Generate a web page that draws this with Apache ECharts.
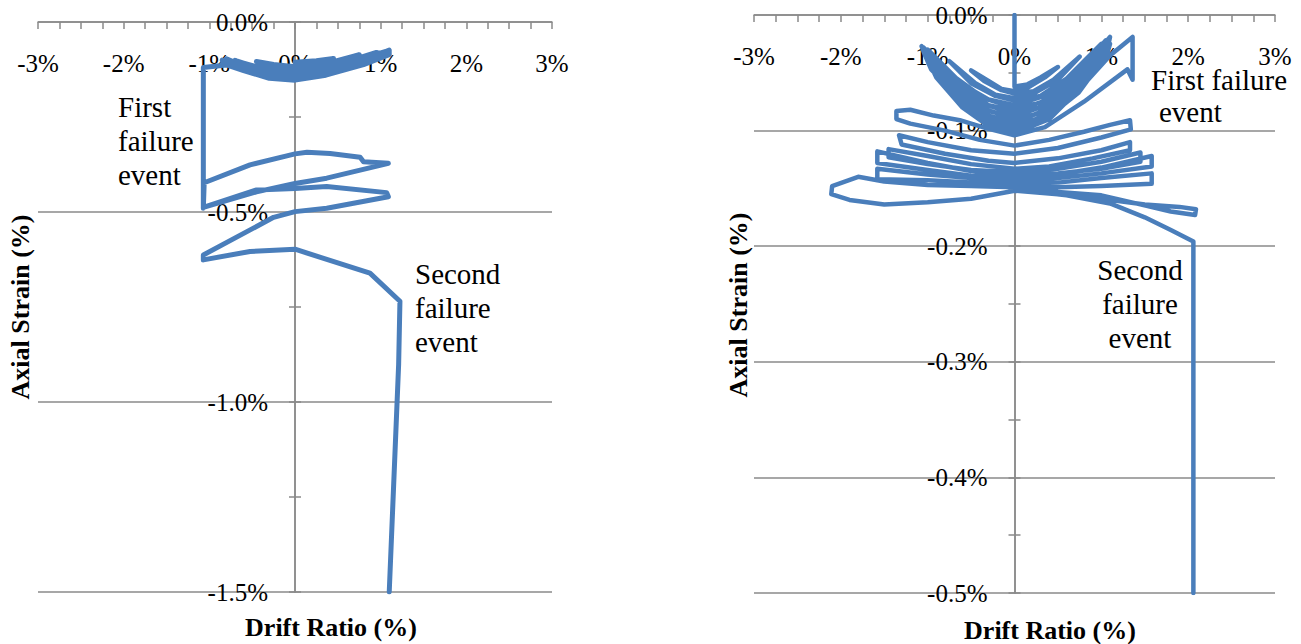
<!DOCTYPE html>
<html>
<head>
<meta charset="utf-8">
<script src="https://cdn.jsdelivr.net/npm/echarts@6/dist/echarts.min.js"></script>
<style>
  html, body { margin: 0; padding: 0; background: #ffffff; }
  #chart { width: 1301px; height: 644px; }
</style>
</head>
<body>
<div id="chart"></div>
<script>
// Axis ticks (percent)
const driftTicks = [-3, -2, -1, 0, 1, 2, 3];
const leftStrainTicks = [0, -0.5, -1.0, -1.5];
const rightStrainTicks = [0, -0.1, -0.2, -0.3, -0.4, -0.5];

// Specimen A: [drift ratio %, axial strain %] in loading order
const leftPath = [
  [0, -0.106], [0.25, -0.102], [0.45, -0.096], [0.25, -0.11], [0, -0.118], [-0.25, -0.112], [-0.45, -0.104], [-0.25, -0.12], [0, -0.126],
  [0.35, -0.11], [0.6, -0.095], [0.75, -0.086], [0.55, -0.104], [0.3, -0.122], [0, -0.134], [-0.3, -0.128], [-0.6, -0.108], [-0.7, -0.101], [-0.55, -0.116], [-0.3, -0.136], [0, -0.142],
  [0.35, -0.122], [0.7, -0.098], [0.95, -0.08], [1.0, -0.084], [0.7, -0.106], [0.35, -0.13], [0, -0.146], [-0.3, -0.14], [-0.6, -0.116], [-0.8, -0.097], [-0.82, -0.108], [-0.6, -0.126], [-0.3, -0.146], [0, -0.152],
  [0.4, -0.13], [0.8, -0.095], [1.05, -0.078], [1.05, -0.09], [0.7, -0.115], [0.35, -0.138], [0, -0.15], [-0.35, -0.142], [-0.7, -0.112], [-0.85, -0.1], [-0.84, -0.11], [-0.6, -0.122], [-0.3, -0.142], [0, -0.15],
  [0.36, -0.136], [0.8, -0.102], [1.1, -0.074], [1.1, -0.086], [0.8, -0.112], [0.36, -0.14], [0, -0.153], [-0.3, -0.148], [-0.6, -0.128], [-0.8, -0.113],
  [-1.07, -0.12], [-1.07, -0.49], [-1.06, -0.423],
  [-0.525, -0.376], [0, -0.347], [0.14, -0.343], [0.41, -0.346], [0.76, -0.356], [0.8, -0.368], [1.09, -0.372],
  [0.37, -0.411], [0, -0.425], [-0.45, -0.447], [-1.07, -0.488],
  [-0.45, -0.442], [0, -0.438], [0.37, -0.433], [1.07, -0.449], [1.09, -0.46],
  [0.37, -0.49], [0, -0.499], [-0.25, -0.514], [-1.07, -0.613], [-1.07, -0.626],
  [-0.525, -0.604], [0, -0.598], [0.875, -0.661], [1.225, -0.735], [1.21, -0.9], [1.1, -1.5]
];

// Specimen B: [drift ratio %, axial strain %] in loading order
const rightPath = [
  [0, 0], [0, -0.062],
  [0.15, -0.06], [0.3, -0.054], [0.5, -0.045], [0.35, -0.054], [0.15, -0.063], [0, -0.066],
  [-0.15, -0.064], [-0.3, -0.057], [-0.5, -0.048], [-0.35, -0.057], [-0.15, -0.065], [0, -0.068],
  [0.22, -0.066], [0.45, -0.056], [0.75, -0.036], [0.5, -0.056], [0.22, -0.068], [0, -0.072],
  [-0.22, -0.069], [-0.45, -0.059], [-0.75, -0.04], [-0.5, -0.059], [-0.22, -0.07], [0, -0.074],
  [0.3, -0.07], [0.6, -0.055], [1.0, -0.025], [0.7, -0.05], [0.35, -0.07], [0, -0.078],
  [-0.3, -0.073], [-0.6, -0.06], [-1.0, -0.03], [-0.7, -0.053], [-0.35, -0.072], [0, -0.08],
  [0.3, -0.076], [0.6, -0.06], [1.05, -0.022], [0.72, -0.053], [0.36, -0.074], [0, -0.083],
  [-0.3, -0.078], [-0.6, -0.063], [-1.05, -0.028], [-0.72, -0.056], [-0.36, -0.077], [0, -0.085],
  [0.3, -0.08], [0.62, -0.062], [1.1, -0.019], [1.08, -0.026], [0.74, -0.056], [0.36, -0.078], [0, -0.088],
  [-0.3, -0.083], [-0.62, -0.066], [-1.07, -0.027], [-1.04, -0.033], [-0.72, -0.06], [-0.36, -0.081], [0, -0.09],
  [0.3, -0.085], [0.62, -0.067], [1.08, -0.024], [1.05, -0.031], [0.72, -0.06], [0.36, -0.082], [0, -0.093],
  [-0.3, -0.087], [-0.62, -0.07], [-1.04, -0.033], [-1.0, -0.04], [-0.7, -0.065], [-0.36, -0.086], [0, -0.095],
  [0.3, -0.089], [0.62, -0.071], [1.06, -0.028], [1.03, -0.036], [0.72, -0.065], [0.36, -0.087], [0, -0.097],
  [-0.3, -0.092], [-0.62, -0.074], [-1.0, -0.04], [-0.96, -0.047], [-0.66, -0.07], [-0.34, -0.09], [0, -0.1],
  [0.3, -0.093], [0.62, -0.074], [1.1, -0.025], [1.07, -0.033], [0.74, -0.067], [0.36, -0.09], [0, -0.1],
  [-0.3, -0.096], [-0.6, -0.079], [-0.95, -0.046], [-0.9, -0.054], [-0.6, -0.08], [-0.3, -0.096], [0, -0.102],
  [0.4, -0.09], [0.8, -0.06], [1.1, -0.035], [1.36, -0.019], [1.36, -0.056], [1.3, -0.047], [0.8, -0.075], [0.35, -0.097], [0, -0.104],
  [-0.32, -0.098], [-0.63, -0.091], [-0.93, -0.087], [-1.2, -0.082], [-1.36, -0.083], [-1.36, -0.09], [-1.2, -0.094], [-0.8, -0.1], [-0.4, -0.108], [0, -0.113],
  [0.4, -0.108], [0.8, -0.101], [1.1, -0.095], [1.33, -0.091], [1.34, -0.099], [1.0, -0.106], [0.5, -0.115], [0, -0.12],
  [-0.5, -0.117], [-1.0, -0.11], [-1.33, -0.104], [-1.3, -0.112], [-0.8, -0.12], [-0.3, -0.126], [0, -0.128],
  [0.5, -0.124], [1.0, -0.117], [1.33, -0.11], [1.33, -0.117], [0.9, -0.124], [0.4, -0.131], [0, -0.133],
  [-0.5, -0.129], [-1.0, -0.122], [-1.45, -0.116], [-1.45, -0.123], [-1.0, -0.129], [-0.5, -0.134], [0, -0.136],
  [0.5, -0.133], [1.0, -0.127], [1.45, -0.119], [1.45, -0.127], [1.0, -0.133], [0.5, -0.137], [0, -0.139],
  [-0.5, -0.135], [-1.0, -0.128], [-1.58, -0.118], [-1.58, -0.128], [-1.0, -0.134], [-0.5, -0.139], [0, -0.141],
  [0.5, -0.138], [1.0, -0.132], [1.58, -0.122], [1.58, -0.131], [1.0, -0.137], [0.5, -0.141], [0, -0.143],
  [-0.5, -0.141], [-1.0, -0.138], [-1.58, -0.133], [-1.58, -0.142], [-1.0, -0.143], [-0.5, -0.145], [0, -0.146],
  [0.5, -0.145], [1.0, -0.141], [1.58, -0.137], [1.58, -0.146], [1.0, -0.148], [0.5, -0.149], [0, -0.149],
  [-0.5, -0.148], [-1.0, -0.147], [-1.5, -0.144], [-1.8, -0.14], [-2.1, -0.148], [-2.11, -0.155], [-1.9, -0.16], [-1.5, -0.164],
  [-1.0, -0.162], [-0.5, -0.159], [0, -0.152], [0.5, -0.155], [1.0, -0.159], [1.5, -0.164], [1.9, -0.166], [2.09, -0.168],
  [2.08, -0.173], [1.8, -0.17], [1.4, -0.163], [1.0, -0.156], [0.5, -0.153], [0, -0.151],
  [0.6, -0.156], [1.1, -0.163], [1.5, -0.175], [1.8, -0.186], [2.06, -0.196], [2.06, -0.5]
];

const AXIS_GRAY = '#8a8a8a';
const LINE_BLUE = '#4a7ebb';
const SERIF = 'Liberation Serif';

// Drift axis sits on the zero-strain line (top edge), labels and ticks hang below it
function driftAxis(gridIndex) {
  return {
    type: 'value', gridIndex: gridIndex, position: 'top',
    min: driftTicks[0], max: driftTicks[driftTicks.length - 1], interval: 1,
    axisLine: { show: true, onZero: false, lineStyle: { color: AXIS_GRAY, width: 1.5 } },
    axisTick: { show: true, inside: true, length: 7, lineStyle: { color: AXIS_GRAY, width: 1.5 } },
    minorTick: { show: true, splitNumber: 4, length: 7, lineStyle: { color: AXIS_GRAY, width: 1.5 } },
    axisLabel: { inside: true, margin: 29, color: '#000', fontFamily: SERIF, fontSize: 25, formatter: v => v + '%' },
    splitLine: { show: false }
  };
}

// Strain axis sits on the zero-drift line; a second copy gives ticks on the other side
function strainAxis(gridIndex, ticks, step, halfWidth, main) {
  return {
    type: 'value', gridIndex: gridIndex, position: main ? 'left' : 'right',
    offset: -halfWidth,
    min: ticks[ticks.length - 1], max: ticks[0], interval: step,
    axisLine: { show: true, onZero: false, lineStyle: { color: AXIS_GRAY, width: 1.5 } },
    axisTick: { show: true, length: 6, lineStyle: { color: AXIS_GRAY, width: 1.5 } },
    minorTick: { show: true, splitNumber: 2, length: 6, lineStyle: { color: AXIS_GRAY, width: 1.5 } },
    axisLabel: { show: main, margin: 27, color: '#000', fontFamily: SERIF, fontSize: 25, formatter: v => v.toFixed(1) + '%' },
    splitLine: { show: main, lineStyle: { color: AXIS_GRAY, width: 1.5 } }
  };
}

function pathSeries(data, xi, yi, width) {
  return {
    type: 'line', xAxisIndex: xi, yAxisIndex: yi, data: data,
    showSymbol: false, symbol: 'none', smooth: false, silent: true,
    lineStyle: { color: LINE_BLUE, width: width, cap: 'round', join: 'round' }
  };
}

const leftGrid = { left: 38, top: 22, width: 514, height: 570 };
const rightGrid = { left: 754, top: 15, width: 521, height: 578 };

const chart = echarts.init(document.getElementById('chart'), null, { renderer: 'svg' });
chart.setOption({
  animation: false,
  backgroundColor: '#ffffff',
  grid: [
    Object.assign({ outerBoundsMode: 'none' }, leftGrid),
    Object.assign({ outerBoundsMode: 'none' }, rightGrid)
  ],
  xAxis: [driftAxis(0), driftAxis(1)],
  yAxis: [
    strainAxis(0, leftStrainTicks, 0.5, leftGrid.width / 2, true),
    strainAxis(0, leftStrainTicks, 0.5, leftGrid.width / 2, false),
    strainAxis(1, rightStrainTicks, 0.1, rightGrid.width / 2, true),
    strainAxis(1, rightStrainTicks, 0.1, rightGrid.width / 2, false)
  ],
  series: [
    pathSeries(leftPath, 0, 0, 5),
    pathSeries(rightPath, 1, 2, 4.5)
  ],
  graphic: [
    { type: 'text', x: 20, y: 307, rotation: Math.PI / 2,
      style: { text: 'Axial Strain (%)', font: 'bold 26px Liberation Serif', fill: '#000', textAlign: 'center', textVerticalAlign: 'middle' } },
    { type: 'text', x: 331, y: 627,
      style: { text: 'Drift Ratio (%)', font: 'bold 26px Liberation Serif', fill: '#000', textAlign: 'center', textVerticalAlign: 'middle' } },
    { type: 'text', x: 738, y: 305, rotation: Math.PI / 2,
      style: { text: 'Axial Strain (%)', font: 'bold 26px Liberation Serif', fill: '#000', textAlign: 'center', textVerticalAlign: 'middle' } },
    { type: 'text', x: 1050, y: 630,
      style: { text: 'Drift Ratio (%)', font: 'bold 26px Liberation Serif', fill: '#000', textAlign: 'center', textVerticalAlign: 'middle' } },
    { type: 'text', x: 118, y: 141,
      style: { text: 'First\nfailure\nevent', font: '29px Liberation Serif', lineHeight: 34, fill: '#000', textAlign: 'left', textVerticalAlign: 'middle' } },
    { type: 'text', x: 415, y: 308,
      style: { text: 'Second\nfailure\nevent', font: '29px Liberation Serif', lineHeight: 34, fill: '#000', textAlign: 'left', textVerticalAlign: 'middle' } },
    { type: 'text', x: 1151, y: 80,
      style: { text: 'First failure', font: '29px Liberation Serif', fill: '#000', textAlign: 'left', textVerticalAlign: 'middle' } },
    { type: 'text', x: 1159, y: 112,
      style: { text: 'event', font: '29px Liberation Serif', fill: '#000', textAlign: 'left', textVerticalAlign: 'middle' } },
    { type: 'text', x: 1140, y: 304,
      style: { text: 'Second\nfailure\nevent', font: '29px Liberation Serif', lineHeight: 34, fill: '#000', textAlign: 'center', textVerticalAlign: 'middle' } }
  ]
});
</script>
</body>
</html>
